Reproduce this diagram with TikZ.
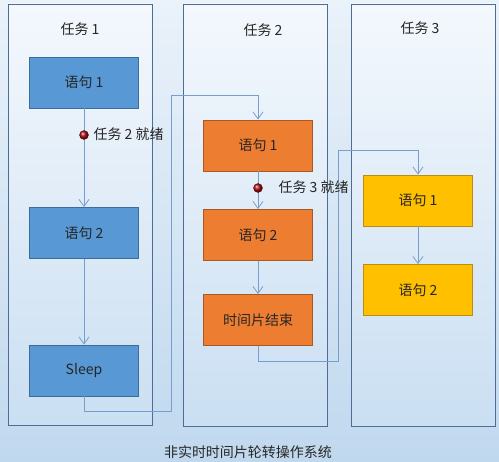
\documentclass[tikz,border=0pt]{standalone}
\usepackage{fontspec}
\setmainfont{Noto Sans CJK SC}
\usetikzlibrary{arrows.meta}
\definecolor{bgtop}{RGB}{234,242,250}
\definecolor{bgbot}{RGB}{192,216,238}
\definecolor{frametop}{RGB}{244,248,253}
\definecolor{framebot}{RGB}{202,223,242}
\definecolor{frameline}{RGB}{78,108,150}
\definecolor{linkline}{RGB}{118,158,206}
\definecolor{taskblue}{RGB}{88,152,212}
\definecolor{taskblueline}{RGB}{62,108,152}
\definecolor{taskorange}{RGB}{237,125,49}
\definecolor{taskorangeline}{RGB}{168,88,36}
\definecolor{taskyellow}{RGB}{255,192,0}
\definecolor{taskyellowline}{RGB}{186,140,20}
\definecolor{readydot}{RGB}{165,12,14}
\begin{document}
\begin{tikzpicture}[x=1pt, y=-1pt,
  stmt/.style={draw, line width=0.8pt, minimum width=109pt, minimum height=51pt,
               inner sep=0pt, font=\fontsize{14}{16}\selectfont, text=black!85},
  blue box/.style={stmt, fill=taskblue, draw=taskblueline},
  orange box/.style={stmt, fill=taskorange, draw=taskorangeline},
  yellow box/.style={stmt, fill=taskyellow, draw=taskyellowline},
  link/.style={draw=linkline, line width=0.8pt},
  flow/.style={link, -{Straight Barb[length=7pt, width=10pt]}},
  dot/.style={circle, ball color=readydot, draw=readydot!70!black, inner sep=0pt, minimum size=9pt},
  caption/.style={font=\fontsize{14}{16}\selectfont, text=black!85}]

\useasboundingbox (0,0) rectangle (499,462);
\fill[top color=bgtop, bottom color=bgbot] (0,0) rectangle (499,462);

% task frames
\foreach \l/\r/\b in {8/152/425, 183/327/426, 351/495/426}
\filldraw[draw=frameline, line width=0.7pt, top color=frametop, bottom color=framebot]
  (\l,4) rectangle (\r,\b);

\node[caption] (t1) at (80,29) {任务 1};
\node[caption] (t2) at (263,30) {任务 2};
\node[caption] (t3) at (420,28) {任务 3};

% task 1
\node[blue box] (b1) at (84,82.5) {语句 1};
\node[blue box] (b2) at (84,233) {语句 2};
\node[blue box] (b3) at (84,370.5) {Sleep};

% task 2
\node[orange box] (o1) at (258,145.5) {语句 1};
\node[orange box] (o2) at (258,235) {语句 2};
\node[orange box] (o3) at (258,320) {时间片结束};

% task 3
\node[yellow box] (y1) at (418,200.5) {语句 1};
\node[yellow box] (y2) at (418,290) {语句 2};

\draw[flow] (b1) -- (b2);
\draw[flow] (b2) -- (b3);
\draw[flow] (o1) -- (o2);
\draw[flow] (o2) -- (o3);
\draw[flow] (y1) -- (y2);

% switch to the next task
\coordinate (sw1a) at (171,411);
\coordinate (sw1b) at (171,95);
\coordinate (sw2a) at (338,361);
\coordinate (sw2b) at (338,150);
\draw[flow] (b3.south) |- (sw1a) -- (sw1b) -| (o1.north);
\draw[flow] (o3.south) |- (sw2a) -- (sw2b) -| (y1.north);

\node[dot] (r2) at (84,135) {};
\node[caption, anchor=west] (r2l) at (90,134) {任务 2 就绪};
\node[dot] (r3) at (258,188) {};
\node[caption, anchor=west] (r3l) at (275,187) {任务 3 就绪};

\node[caption] (os) at (248,452) {非实时时间片轮转操作系统};
\end{tikzpicture}
\end{document}
